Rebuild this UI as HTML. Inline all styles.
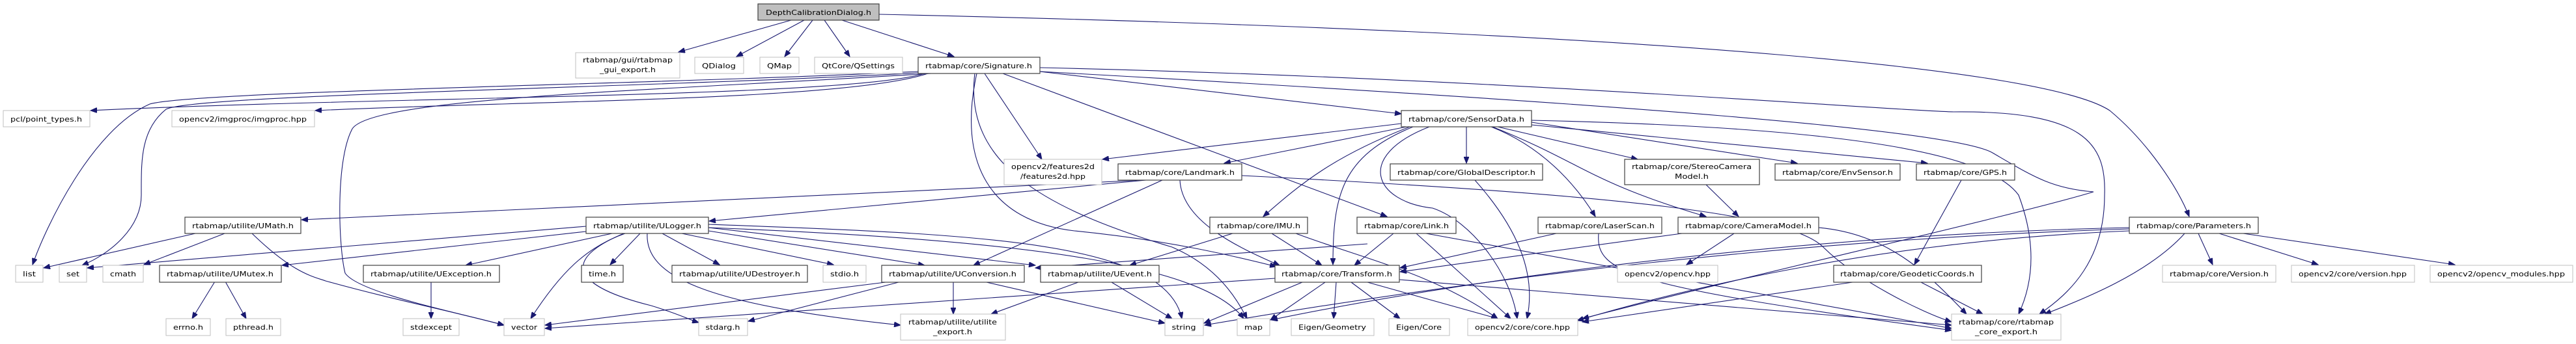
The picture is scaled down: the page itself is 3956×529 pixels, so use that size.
<!DOCTYPE html>
<html><head><meta charset="utf-8"><style>
html,body{margin:0;padding:0;background:#fff;}
svg{display:block;}
text{font-family:"DejaVu Sans","Liberation Sans",sans-serif;font-size:11px;fill:#000;}
.e{fill:none;stroke:#191970;stroke-width:1.1;marker-end:url(#a);}
.l{fill:#fff;stroke:#bfbfbf;stroke-width:1;}
.d{fill:#fff;stroke:#404040;stroke-width:1.2;}
</style></head><body>
<svg width="3956" height="529" viewBox="0 0 3956 529" xmlns="http://www.w3.org/2000/svg">
<defs><marker id="a" markerUnits="userSpaceOnUse" markerWidth="11" markerHeight="8" refX="10" refY="4" orient="auto"><path d="M0,0 L10,4 L0,8 z" fill="#191970" stroke="#191970"/></marker></defs>
<g>
<!-- D edges -->
<path class="e" d="M1215,31 L1042,80"/>
<path class="e" d="M1235,31 L1131,87"/>
<path class="e" d="M1248,31 L1205,87"/>
<path class="e" d="M1266,31 L1305,87"/>
<path class="e" d="M1293,31 L1465,87"/>
<path class="e" d="M1350,22 C2600,50 3150,110 3240,170 C3300,220 3345,290 3362,333"/>
<!-- Signature edges -->
<path class="e" d="M1420,113 C1300,150 600,148 139,170"/>
<path class="e" d="M1425,113 C1300,155 800,155 484,170"/>
<path class="e" d="M1410,110 C1000,130 300,140 230,160 C140,200 70,350 50,407"/>
<path class="e" d="M1412,112 C1000,135 300,145 255,168 C215,200 217,250 217,300 C217,350 170,390 126,408"/>
<path class="e" d="M1430,113 C1000,140 560,150 540,200 C515,250 520,380 530,420 C550,450 700,480 774,500"/>
<path class="e" d="M1512,113 L1600,245"/>
<path class="e" d="M1597,110 L2152,175"/>
<path class="e" d="M1540,113 L2130,333"/>
<path class="e" d="M1500,113 C1470,250 1520,340 1650,355 C1800,370 1900,395 1960,410"/>
<path class="e" d="M1497,113 C1480,250 1600,320 1800,380 C1870,410 1900,460 1915,490"/>
<path class="e" d="M1597,104 C2300,120 2900,170 3000,172 C3200,170 3235,220 3232,300 C3232,400 3180,450 3132,483"/>
<path class="e" d="M1597,110 C2500,160 3000,200 3060,235 C3120,270 3150,290 3215,295 C3100,330 2700,420 2430,490"/>
<!-- SensorData edges -->
<path class="e" d="M2152,190 L1693,245"/>
<path class="e" d="M2160,195 L1880,251"/>
<path class="e" d="M2252,195 L2252,251"/>
<path class="e" d="M2300,195 L2515,245"/>
<path class="e" d="M2352,188 L2760,251"/>
<path class="e" d="M2352,192 L2960,251"/>
<path class="e" d="M2165,195 C2050,240 2000,280 1940,333"/>
<path class="e" d="M2170,195 C2060,240 2047,300 2047,407"/>
<path class="e" d="M2290,195 C2380,230 2430,300 2450,333"/>
<path class="e" d="M2292,195 C2430,250 2440,280 2620,333"/>
<path class="e" d="M2195,195 C2080,240 2110,310 2200,320 C2260,340 2320,420 2330,490"/>
<path class="e" d="M2352,185 C2800,195 3050,230 3100,300 C3130,380 3120,440 3100,483"/>
<!-- Landmark -->
<path class="e" d="M1755,277 L463,338"/>
<path class="e" d="M1760,277 L1089,340"/>
<path class="e" d="M1785,277 L1495,408"/>
<path class="e" d="M1812,277 C1815,340 1900,380 1965,408"/>
<path class="e" d="M1907,270 C2500,300 2750,330 2800,380 C2850,430 2950,480 2997,495"/>
<!-- UMath -->
<path class="e" d="M300,359 L67,412"/>
<path class="e" d="M345,359 L221,407"/>
<path class="e" d="M387,359 C450,420 480,425 500,432 C600,460 700,480 774,500"/>
<!-- ULogger -->
<path class="e" d="M900,348 L134,412"/>
<path class="e" d="M900,356 L433,408"/>
<path class="e" d="M940,359 L715,408"/>
<path class="e" d="M983,359 L937,407"/>
<path class="e" d="M1017,359 L1105,407"/>
<path class="e" d="M1047,359 L1280,407"/>
<path class="e" d="M1088,355 L1420,408"/>
<path class="e" d="M1088,350 L1590,408"/>
<path class="e" d="M960,359 C900,380 860,420 815,490"/>
<path class="e" d="M958,359 C860,400 880,440 1000,470 C1040,482 1060,492 1073,496"/>
<path class="e" d="M1088,345 C1500,360 1790,370 1815,490"/>
<path class="e" d="M1088,350 C1600,370 1850,410 1910,490"/>
<path class="e" d="M994,359 C990,430 1100,470 1383,500"/>
<path class="e" d="M1300,400 L2980,4000" style="display:none"/>
<!-- UMutex, UException -->
<path class="e" d="M330,433 L295,490"/>
<path class="e" d="M346,433 L378,490"/>
<path class="e" d="M662,434 L662,490"/>
<!-- UConversion / UEvent -->
<path class="e" d="M1464,434 L1464,483"/>
<path class="e" d="M1515,434 L1789,497"/>
<path class="e" d="M1360,434 L837,500"/>
<path class="e" d="M1380,434 L1149,494"/>
<path class="e" d="M1656,434 L1522,483"/>
<path class="e" d="M1707,434 L1800,490"/>
<!-- IMU -->
<path class="e" d="M1893,359 L1735,408"/>
<path class="e" d="M1953,359 L2030,408"/>
<path class="e" d="M1990,359 C2100,400 2200,420 2300,490"/>
<!-- Link -->
<path class="e" d="M2140,359 L2080,408"/>
<path class="e" d="M2175,359 L2320,490"/>
<path class="e" d="M2190,359 L2997,505"/>
<path class="e" d="M2100,375 L1590,412"/>
<!-- LaserScan / CameraModel / Stereo / GlobalDesc / GPS / Geodetic -->
<path class="e" d="M2390,359 L2150,412"/>
<path class="e" d="M2455,359 C2450,420 2500,440 2997,508"/>
<path class="e" d="M2583,359 L2150,418"/>
<path class="e" d="M2663,359 L2590,407"/>
<path class="e" d="M2793,350 C2900,360 2960,420 3020,483"/>
<path class="e" d="M2620,284 L2670,333"/>
<path class="e" d="M2265,277 C2330,350 2360,420 2345,490"/>
<path class="e" d="M3012,277 L2940,407"/>
<path class="e" d="M2950,434 L3045,483"/>
<path class="e" d="M2845,434 L2430,495"/>
<!-- Transform -->
<path class="e" d="M1958,428 L837,505"/>
<path class="e" d="M2000,434 L1849,497"/>
<path class="e" d="M2035,434 L1951,492"/>
<path class="e" d="M2052,434 L2048,490"/>
<path class="e" d="M2075,434 L2150,490"/>
<path class="e" d="M2100,434 L2300,490"/>
<path class="e" d="M2149,430 L2997,500"/>
<!-- Parameters -->
<path class="e" d="M3355,359 C3300,420 3200,460 3140,483"/>
<path class="e" d="M3376,359 L3398,407"/>
<path class="e" d="M3408,359 L3560,407"/>
<path class="e" d="M3445,359 L3770,407"/>
<path class="e" d="M3270,350 C2800,360 2300,420 1952,492"/>
<path class="e" d="M3270,352 C2700,370 2200,440 1850,500"/>
<path class="e" d="M3270,355 C2900,370 2600,440 2422,493"/>
</g>
<g>
<rect x="1164" y="6" width="186" height="25" fill="#bfbfbf" stroke="#404040" stroke-width="1.2"/><text x="1257" y="23" text-anchor="middle" textLength="162" lengthAdjust="spacingAndGlyphs">DepthCalibrationDialog.h</text>
<rect class="l" x="884" y="81" width="160" height="39"/><text x="964" y="96" text-anchor="middle" textLength="138" lengthAdjust="spacingAndGlyphs">rtabmap/gui/rtabmap</text><text x="964" y="111" text-anchor="middle" textLength="86" lengthAdjust="spacingAndGlyphs">_gui_export.h</text>
<rect class="l" x="1067" y="88" width="75" height="25"/><text x="1104" y="105" text-anchor="middle" textLength="52" lengthAdjust="spacingAndGlyphs">QDialog</text>
<rect class="l" x="1167" y="88" width="60" height="25"/><text x="1197" y="105" text-anchor="middle" textLength="38" lengthAdjust="spacingAndGlyphs">QMap</text>
<rect class="l" x="1251" y="88" width="135" height="25"/><text x="1318" y="105" text-anchor="middle" textLength="112" lengthAdjust="spacingAndGlyphs">QtCore/QSettings</text>
<rect class="d" x="1410" y="88" width="187" height="25"/><text x="1503" y="105" text-anchor="middle" textLength="164" lengthAdjust="spacingAndGlyphs">rtabmap/core/Signature.h</text>
<rect class="l" x="5" y="170" width="133" height="25"/><text x="71" y="187" text-anchor="middle" textLength="110" lengthAdjust="spacingAndGlyphs">pcl/point_types.h</text>
<rect class="l" x="264" y="170" width="219" height="25"/><text x="373" y="187" text-anchor="middle" textLength="196" lengthAdjust="spacingAndGlyphs">opencv2/imgproc/imgproc.hpp</text>
<rect class="d" x="2152" y="170" width="200" height="25"/><text x="2252" y="187" text-anchor="middle" textLength="178" lengthAdjust="spacingAndGlyphs">rtabmap/core/SensorData.h</text>
<rect class="l" x="1542" y="245" width="150" height="39"/><text x="1617" y="260" text-anchor="middle" textLength="128" lengthAdjust="spacingAndGlyphs">opencv2/features2d</text><text x="1617" y="275" text-anchor="middle" textLength="100" lengthAdjust="spacingAndGlyphs">/features2d.hpp</text>
<rect class="d" x="1717" y="252" width="190" height="25"/><text x="1812" y="269" text-anchor="middle" textLength="168" lengthAdjust="spacingAndGlyphs">rtabmap/core/Landmark.h</text>
<rect class="d" x="2135" y="252" width="234" height="25"/><text x="2252" y="269" text-anchor="middle" textLength="212" lengthAdjust="spacingAndGlyphs">rtabmap/core/GlobalDescriptor.h</text>
<rect class="d" x="2495" y="245" width="207" height="39"/><text x="2598" y="260" text-anchor="middle" textLength="184" lengthAdjust="spacingAndGlyphs">rtabmap/core/StereoCamera</text><text x="2598" y="275" text-anchor="middle" textLength="52" lengthAdjust="spacingAndGlyphs">Model.h</text>
<rect class="d" x="2726" y="252" width="192" height="25"/><text x="2822" y="269" text-anchor="middle" textLength="170" lengthAdjust="spacingAndGlyphs">rtabmap/core/EnvSensor.h</text>
<rect class="d" x="2943" y="252" width="151" height="25"/><text x="3018" y="269" text-anchor="middle" textLength="128" lengthAdjust="spacingAndGlyphs">rtabmap/core/GPS.h</text>
<rect class="d" x="284" y="334" width="178" height="25"/><text x="373" y="351" text-anchor="middle" textLength="156" lengthAdjust="spacingAndGlyphs">rtabmap/utilite/UMath.h</text>
<rect class="d" x="900" y="334" width="188" height="25"/><text x="994" y="351" text-anchor="middle" textLength="166" lengthAdjust="spacingAndGlyphs">rtabmap/utilite/ULogger.h</text>
<rect class="d" x="1858" y="334" width="150" height="25"/><text x="1933" y="351" text-anchor="middle" textLength="128" lengthAdjust="spacingAndGlyphs">rtabmap/core/IMU.h</text>
<rect class="d" x="2084" y="334" width="152" height="25"/><text x="2160" y="351" text-anchor="middle" textLength="130" lengthAdjust="spacingAndGlyphs">rtabmap/core/Link.h</text>
<rect class="d" x="2362" y="334" width="190" height="25"/><text x="2457" y="351" text-anchor="middle" textLength="168" lengthAdjust="spacingAndGlyphs">rtabmap/core/LaserScan.h</text>
<rect class="d" x="2577" y="334" width="216" height="25"/><text x="2685" y="351" text-anchor="middle" textLength="194" lengthAdjust="spacingAndGlyphs">rtabmap/core/CameraModel.h</text>
<rect class="d" x="3270" y="334" width="198" height="25"/><text x="3369" y="351" text-anchor="middle" textLength="176" lengthAdjust="spacingAndGlyphs">rtabmap/core/Parameters.h</text>
<rect class="l" x="24" y="408" width="42" height="26"/><text x="45" y="425" text-anchor="middle" textLength="20" lengthAdjust="spacingAndGlyphs">list</text>
<rect class="l" x="91" y="408" width="42" height="26"/><text x="112" y="425" text-anchor="middle" textLength="20" lengthAdjust="spacingAndGlyphs">set</text>
<rect class="l" x="158" y="408" width="62" height="26"/><text x="189" y="425" text-anchor="middle" textLength="40" lengthAdjust="spacingAndGlyphs">cmath</text>
<rect class="d" x="245" y="408" width="187" height="26"/><text x="338" y="425" text-anchor="middle" textLength="164" lengthAdjust="spacingAndGlyphs">rtabmap/utilite/UMutex.h</text>
<rect class="d" x="558" y="408" width="209" height="26"/><text x="662" y="425" text-anchor="middle" textLength="186" lengthAdjust="spacingAndGlyphs">rtabmap/utilite/UException.h</text>
<rect class="d" x="893" y="408" width="64" height="26"/><text x="925" y="425" text-anchor="middle" textLength="42" lengthAdjust="spacingAndGlyphs">time.h</text>
<rect class="d" x="1032" y="408" width="208" height="26"/><text x="1136" y="425" text-anchor="middle" textLength="186" lengthAdjust="spacingAndGlyphs">rtabmap/utilite/UDestroyer.h</text>
<rect class="l" x="1264" y="408" width="66" height="26"/><text x="1297" y="425" text-anchor="middle" textLength="44" lengthAdjust="spacingAndGlyphs">stdio.h</text>
<rect class="d" x="1354" y="408" width="219" height="26"/><text x="1463" y="425" text-anchor="middle" textLength="196" lengthAdjust="spacingAndGlyphs">rtabmap/utilite/UConversion.h</text>
<rect class="d" x="1598" y="408" width="182" height="26"/><text x="1689" y="425" text-anchor="middle" textLength="160" lengthAdjust="spacingAndGlyphs">rtabmap/utilite/UEvent.h</text>
<rect class="d" x="1958" y="408" width="191" height="26"/><text x="2053" y="425" text-anchor="middle" textLength="170" lengthAdjust="spacingAndGlyphs">rtabmap/core/Transform.h</text>
<rect class="l" x="2484" y="408" width="154" height="26"/><text x="2561" y="425" text-anchor="middle" textLength="132" lengthAdjust="spacingAndGlyphs">opencv2/opencv.hpp</text>
<rect class="d" x="2816" y="408" width="227" height="26"/><text x="2929" y="425" text-anchor="middle" textLength="206" lengthAdjust="spacingAndGlyphs">rtabmap/core/GeodeticCoords.h</text>
<rect class="l" x="3321" y="408" width="174" height="26"/><text x="3408" y="425" text-anchor="middle" textLength="152" lengthAdjust="spacingAndGlyphs">rtabmap/core/Version.h</text>
<rect class="l" x="3519" y="408" width="189" height="26"/><text x="3613" y="425" text-anchor="middle" textLength="166" lengthAdjust="spacingAndGlyphs">opencv2/core/version.hpp</text>
<rect class="l" x="3732" y="408" width="219" height="26"/><text x="3841" y="425" text-anchor="middle" textLength="196" lengthAdjust="spacingAndGlyphs">opencv2/opencv_modules.hpp</text>
<rect class="l" x="255" y="490" width="68" height="26"/><text x="289" y="507" text-anchor="middle" textLength="46" lengthAdjust="spacingAndGlyphs">errno.h</text>
<rect class="l" x="347" y="490" width="84" height="26"/><text x="389" y="507" text-anchor="middle" textLength="62" lengthAdjust="spacingAndGlyphs">pthread.h</text>
<rect class="l" x="619" y="490" width="86" height="26"/><text x="662" y="507" text-anchor="middle" textLength="64" lengthAdjust="spacingAndGlyphs">stdexcept</text>
<rect class="l" x="774" y="490" width="62" height="26"/><text x="805" y="507" text-anchor="middle" textLength="40" lengthAdjust="spacingAndGlyphs">vector</text>
<rect class="l" x="1073" y="490" width="75" height="26"/><text x="1110" y="507" text-anchor="middle" textLength="53" lengthAdjust="spacingAndGlyphs">stdarg.h</text>
<rect class="l" x="1383" y="483" width="161" height="40"/><text x="1463" y="499" text-anchor="middle" textLength="136" lengthAdjust="spacingAndGlyphs">rtabmap/utilite/utilite</text><text x="1463" y="514" text-anchor="middle" textLength="60" lengthAdjust="spacingAndGlyphs">_export.h</text>
<rect class="l" x="1789" y="490" width="59" height="26"/><text x="1818" y="507" text-anchor="middle" textLength="37" lengthAdjust="spacingAndGlyphs">string</text>
<rect class="l" x="1900" y="490" width="50" height="26"/><text x="1925" y="507" text-anchor="middle" textLength="28" lengthAdjust="spacingAndGlyphs">map</text>
<rect class="l" x="1983" y="490" width="127" height="26"/><text x="2046" y="507" text-anchor="middle" textLength="104" lengthAdjust="spacingAndGlyphs">Eigen/Geometry</text>
<rect class="l" x="2133" y="490" width="93" height="26"/><text x="2179" y="507" text-anchor="middle" textLength="70" lengthAdjust="spacingAndGlyphs">Eigen/Core</text>
<rect class="l" x="2254" y="490" width="169" height="26"/><text x="2338" y="507" text-anchor="middle" textLength="146" lengthAdjust="spacingAndGlyphs">opencv2/core/core.hpp</text>
<rect class="l" x="2997" y="483" width="168" height="40"/><text x="3081" y="499" text-anchor="middle" textLength="146" lengthAdjust="spacingAndGlyphs">rtabmap/core/rtabmap</text><text x="3081" y="514" text-anchor="middle" textLength="96" lengthAdjust="spacingAndGlyphs">_core_export.h</text>
</g>
</svg>
</body></html>
